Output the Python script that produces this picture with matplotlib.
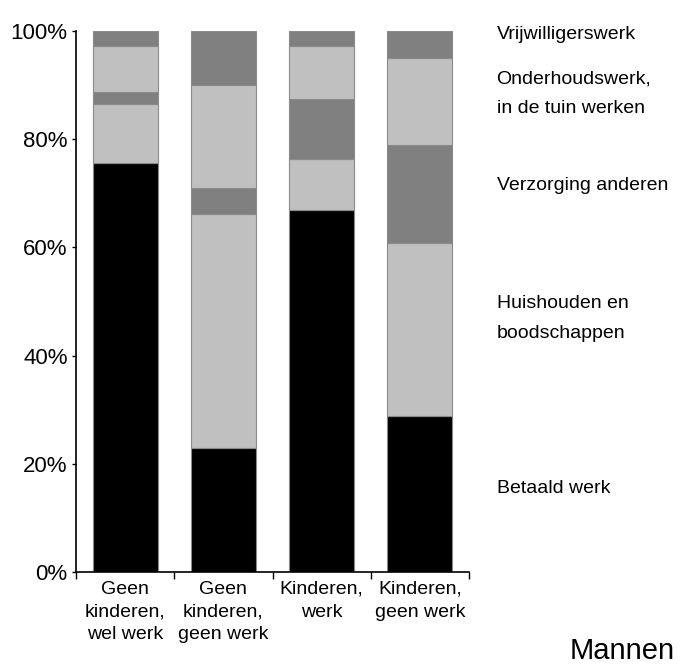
import matplotlib
matplotlib.use("Agg")
import matplotlib.pyplot as plt
import numpy as np

categories = ["Geen\nkinderen,\nwel werk", "Geen\nkinderen,\ngeen werk", "Kinderen,\nwerk", "Kinderen,\ngeen werk"]
series_names = ["Betaald werk", "Huishouden en\nboodschappen", "Verzorging anderen",
                "Onderhoudswerk,\nin de tuin werken", "Vrijwilligerswerk"]
betaald = [75.6, 22.9, 67.0, 28.8]
huishouden = [10.9, 43.2, 9.3, 32.1]
verzorging = [2.3, 4.9, 11.1, 18.0]
onderhoud = [8.4, 19.1, 9.8, 16.2]
vrijwilligers = [2.8, 9.9, 2.8, 4.9]
colors = ["#000000", "#c0c0c0", "#808080", "#c0c0c0", "#808080"]
label_y = [15.5, 46.8, 71.5, 88.4, 99.3]  # label positions in data units (%)

plt.rcParams['font.family'] = ['Liberation Sans', 'DejaVu Sans']
fig = plt.figure(figsize=(6.86, 6.64), dpi=100)
ax = fig.add_axes([76/686, 1 - 572/664, (469-76)/686, (572-31)/664])

x = np.arange(len(categories))
bottom = np.zeros(len(categories))
for vals, c in zip([betaald, huishouden, verzorging, onderhoud, vrijwilligers], colors):
    ax.bar(x, vals, bottom=bottom, width=0.66, color=c, edgecolor="#8a8a8a", linewidth=0.8)
    bottom += np.array(vals)

ax.set_xlim(-0.5, 3.5)
ax.set_ylim(0, 100)
ax.set_yticks(np.arange(0, 101, 20))
ax.set_yticklabels([f"{v}%" for v in range(0, 101, 20)], fontsize=16)
ax.set_xticks(np.arange(-0.5, 3.6, 1))
ax.set_xticklabels([])
ax.tick_params(axis='y', direction='out', length=3, width=1, pad=3)
ax.tick_params(axis='x', direction='out', length=5, width=1)
for i, cat in enumerate(categories):
    ax.text(i, -1.6, cat, ha='center', va='top', fontsize=14, linespacing=1.45,
            transform=ax.transData)
ax.spines['top'].set_visible(False)
ax.spines['right'].set_visible(False)
ax.spines['left'].set_linewidth(1.2)
ax.spines['bottom'].set_linewidth(1.2)

for name, y in zip(series_names, label_y):
    ax.text(3.78, y, name, ha='left', va='center', fontsize=14, linespacing=1.98,
            transform=ax.transData, clip_on=False)

fig.text(622/686, 1 - 651/664, "Mannen", ha='center', va='center', fontsize=21)
fig.savefig("out.png", dpi=100)
